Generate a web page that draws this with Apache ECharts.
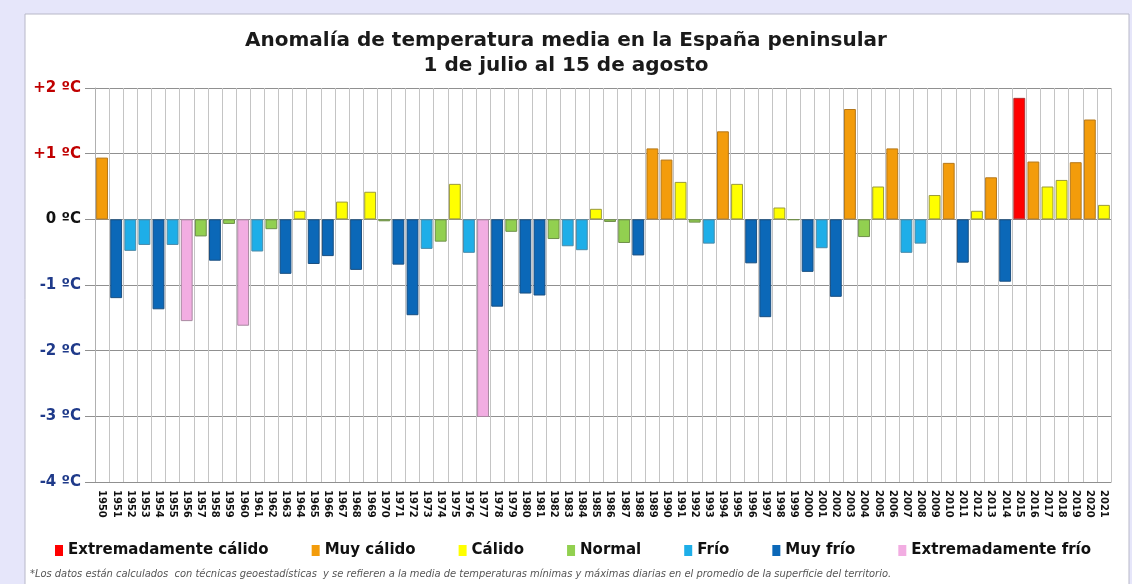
<!DOCTYPE html>
<html>
<head>
<meta charset="utf-8">
<title>Anomalía de temperatura media en la España peninsular</title>
<script src="https://cdn.jsdelivr.net/npm/echarts@6/dist/echarts.min.js"></script>
<style>
  html, body { margin: 0; padding: 0; background: #e6e6fa; }
  #chart { width: 1132px; height: 584px; }
</style>
</head>
<body>
<div id="chart"></div>
<script>
// años 1950-2021
var years = [];
for (var y = 1950; y <= 2021; y++) years.push(String(y));

// anomalía (ºC)
var anomalias = [
  0.94, -1.20, -0.48, -0.39, -1.37, -0.39, -1.55, -0.26, -0.63, -0.07,
  -1.62, -0.49, -0.15, -0.83, 0.13, -0.68, -0.56, 0.27, -0.77, 0.42,
  -0.03, -0.69, -1.46, -0.45, -0.34, 0.54, -0.51, -3.01, -1.33, -0.19,
  -1.13, -1.16, -0.30, -0.41, -0.47, 0.16, -0.04, -0.36, -0.55, 1.08,
  0.91, 0.57, -0.05, -0.37, 1.34, 0.54, -0.67, -1.49, 0.18, -0.01,
  -0.80, -0.44, -1.18, 1.68, -0.27, 0.50, 1.08, -0.51, -0.37, 0.37,
  0.86, -0.66, 0.13, 0.64, -0.95, 1.85, 0.88, 0.50, 0.60, 0.87,
  1.52, 0.22
];

// carácter de cada año
var clases = [
  'MC','MF','F','F','MF','F','EF','N','MF','N',
  'EF','F','N','MF','C','MF','MF','C','MF','C',
  'N','MF','MF','F','N','C','F','EF','MF','N',
  'MF','MF','N','F','F','C','N','N','MF','MC',
  'MC','C','N','F','MC','C','MF','MF','C','N',
  'MF','F','MF','MC','N','C','MC','F','F','C',
  'MC','MF','C','MC','MF','EC','MC','C','C','MC',
  'MC','C'
];

var codigos = ['EC', 'MC', 'C', 'N', 'F', 'MF', 'EF'];
var nombres = ['Extremadamente cálido', 'Muy cálido', 'Cálido', 'Normal', 'Frío', 'Muy frío', 'Extremadamente frío'];
var colores = ['#ff0000', '#f39c0b', '#ffff00', '#92d050', '#1eaee8', '#0b68b8', '#f2ade2'];
var bordes  = ['#b03030', '#b5781a', '#9a9a3a', '#6f8f4a', '#4a8aa8', '#1a4f80', '#a888a0'];

var series = codigos.map(function (c, k) {
  return {
    name: nombres[k],
    type: 'bar',
    stack: 'total',
    barCategoryGap: '16%',
    itemStyle: { color: colores[k], borderColor: bordes[k], borderWidth: 1 },
    data: anomalias.map(function (v, i) { return clases[i] === c ? v : '-'; })
  };
});

var chart = echarts.init(document.getElementById('chart'));
chart.setOption({
  animation: false,
  backgroundColor: '#e6e6fa',
  graphic: [
    { type: 'rect', shape: { x: 25, y: 14, width: 1104, height: 580 },
      style: { fill: '#ffffff', stroke: '#b8b8c8', lineWidth: 1 }, z: -10 },
    { type: 'text', left: 30, top: 569,
      style: { text: '*Los datos están calculados  con técnicas geoestadísticas  y se refieren a la media de temperaturas mínimas y máximas diarias en el promedio de la superficie del territorio.',
        fill: '#555555', font: 'italic 11px "DejaVu Sans Condensed", "DejaVu Sans", sans-serif' } }
  ],
  title: {
    text: 'Anomalía de temperatura media en la España peninsular\n1 de julio al 15 de agosto',
    left: 'center',
    top: 23,
    textStyle: { fontFamily: 'DejaVu Sans', fontWeight: 'bold', fontSize: 20, lineHeight: 25, color: '#1a1a1a' }
  },
  legend: {
    data: nombres,
    left: 50,
    top: 538,
    itemWidth: 8,
    itemHeight: 11,
    itemGap: 43,
    icon: 'rect',
    itemStyle: { borderWidth: 0 },
    textStyle: { fontFamily: 'DejaVu Sans', fontWeight: 'bold', fontSize: 15, color: '#111111' }
  },
  grid: { left: 95, right: 21, top: 88, bottom: 102 },
  xAxis: {
    type: 'category',
    data: years,
    axisLine: { show: true, onZero: false, lineStyle: { color: '#909090' } },
    axisTick: { show: false },
    splitLine: { show: true, interval: 0, lineStyle: { color: '#c4c4c4', width: 1 } },
    axisLabel: {
      interval: 0, rotate: -90, margin: 8,
      fontFamily: 'DejaVu Sans', fontWeight: 'bold', fontSize: 10, color: '#111111'
    }
  },
  yAxis: {
    type: 'value',
    min: -4, max: 2, interval: 1,
    axisLine: { show: true, lineStyle: { color: '#b0b0b0' } },
    axisTick: { show: true, length: 10, lineStyle: { color: '#909090' } },
    splitLine: { show: true, lineStyle: { color: '#909090', width: 1 } },
    axisLabel: {
      margin: 14,
      fontFamily: 'DejaVu Sans', fontWeight: 'bold', fontSize: 15,
      formatter: function (v) { return (v > 0 ? '+' : '') + v + ' ºC'; },
      color: function (v) { v = Number(v); return v > 0 ? '#c00000' : (v === 0 ? '#111111' : '#1f3a8a'); }
    }
  },
  series: series
});
</script>
</body>
</html>
